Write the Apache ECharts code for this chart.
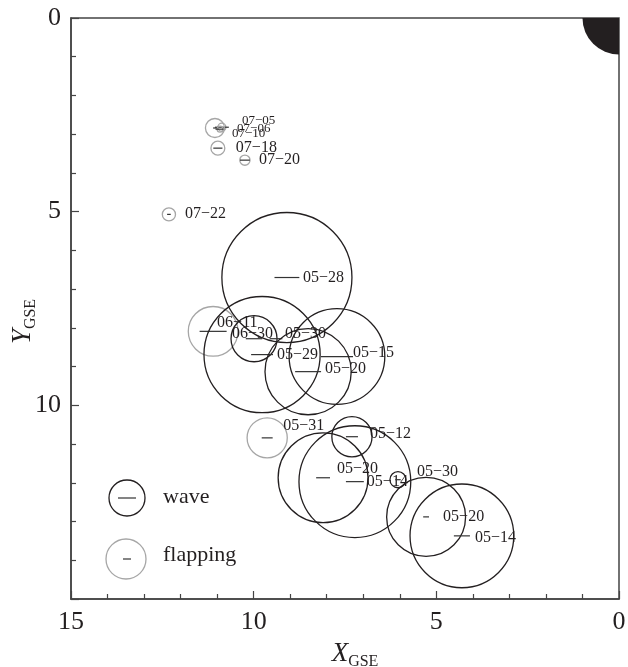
<!DOCTYPE html>
<html>
<head>
<meta charset="utf-8">
<script src="https://cdn.jsdelivr.net/npm/echarts@6/dist/echarts.min.js"></script>
<style>html,body{margin:0;padding:0;background:#fff}#c{width:628px;height:667px}</style>
</head>
<body>
<div id="c"></div>
<script>
// ---- data (X_GSE, Y_GSE in Earth radii; circle radius and bar length in same units) ----
const waveDates = ['05\u221228','06\u221230','05\u221230','05\u221229','05\u221215','05\u221220','05\u221212','05\u221220','05\u221214','05\u221230','05\u221220','05\u221214'];
const waveX     = [9.09, 9.99, 9.39, 9.77, 7.72, 8.51, 7.31, 8.10, 7.23, 6.05, 5.28, 4.30];
const waveY     = [6.70, 8.28, 8.28, 8.69, 8.74, 9.13, 10.81, 11.87, 11.97, 11.92, 12.88, 13.37];
const waveR     = [1.78, 0.63, 0.00, 1.59, 1.31, 1.18, 0.55, 1.23, 1.53, 0.22, 1.08, 1.42];
const waveL     = [0.68, 0.45, 0.35, 0.60, 0.88, 0.71, 0.33, 0.38, 0.49, 0.15, 0.16, 0.44];

const flapDates = ['07\u221205','07\u221206','07\u221210','07\u221218','07\u221220','07\u221222','06\u221211','05\u221231'];
const flapX     = [10.87, 10.92, 11.06, 10.98, 10.24, 12.32, 11.11, 9.63];
const flapY     = [2.82, 2.87, 2.84, 3.36, 3.67, 5.07, 8.09, 10.84];
const flapR     = [0.11, 0.08, 0.26, 0.19, 0.14, 0.18, 0.68, 0.55];
const flapL     = [0.38, 0.25, 0.10, 0.25, 0.27, 0.10, 0.74, 0.30];

const earthR = 1;
const xTicks = [15, 10, 5, 0];
const yTicks = [0, 5, 10];

// ---- label layout (pixel offsets from circle centre) ----
const waveLabelDx = [16, -22, 9, 15, 16, 17, 18, 14, 12, 19, 17, 13];
const waveLabelDy = [0, -5, -5, 0, -4, -3, -3, -9, 0, -8, 0, 2];
const flapLabelDx = [20, 17, 17, 18, 14, 16, 4, 16];
const flapLabelDy = [-7, -1, 6, 0, 0, -1, -9, -12];
const flapLabelFs = [13, 13, 13, 16, 16, 16, 16, 16];

const FONT = 'Liberation Serif';
const INK = '#231f20';

function makeSeries(name, dates, xs, ys, rs, ls, dxs, dys, fss, color) {
  const data = xs.map((x, i) => [x, ys[i], rs[i], ls[i]]);
  return {
    type: 'custom', name: name, data: data, silent: true,
    encode: { x: 0, y: 1 },
    renderItem: function (params, api) {
      const i = params.dataIndex;
      const c = api.coord([api.value(0), api.value(1)]);
      const r = Math.abs(api.size([api.value(2), 0])[0]);
      const hl = Math.abs(api.size([api.value(3), 0])[0]) / 2;
      const fs = fss ? fss[i] : 16;
      const ch = [];
      if (r > 0) ch.push({ type: 'circle', shape: { cx: c[0], cy: c[1], r: r },
        style: { fill: 'none', stroke: color, lineWidth: 1.3 } });
      ch.push({ type: 'line', shape: { x1: c[0] - hl, y1: c[1], x2: c[0] + hl, y2: c[1] },
        style: { stroke: '#333', lineWidth: 1.2 } });
      ch.push({ type: 'text', x: c[0] + dxs[i], y: c[1] + dys[i],
        style: { text: dates[i], fill: INK, fontSize: fs, fontFamily: FONT, align: 'left', verticalAlign: 'middle' } });
      return { type: 'group', children: ch };
    }
  };
}

const chart = echarts.init(document.getElementById('c'), null, { renderer: 'canvas' });
const axisCommon = {
  min: 0, max: 15, interval: 5, inverse: true,
  axisLine: { show: true, onZero: false, lineStyle: { color: '#444', width: 1.5 } },
  axisTick: { show: true, inside: true, length: 8, lineStyle: { color: '#444', width: 1.2 } },
  minorTick: { show: true, splitNumber: 5, length: 5, lineStyle: { color: '#444', width: 1.2 } },
  splitLine: { show: false },
  axisLabel: { fontFamily: FONT, fontSize: 26, color: INK, margin: 10 }
};
chart.setOption({
  animation: false,
  backgroundColor: '#fff',
  grid: { left: 71, right: 9, top: 18, bottom: 68, show: true, borderColor: '#444', borderWidth: 1.5,
          containLabel: false, outerBoundsMode: 'none' },
  xAxis: Object.assign({}, axisCommon, {
    type: 'value', position: 'bottom', nameMoveOverlap: false,
    axisLabel: Object.assign({}, axisCommon.axisLabel, {
      formatter: v => xTicks.indexOf(v) >= 0 ? String(v) : '' }),
    name: '{a|X}{b|GSE}', nameLocation: 'middle', nameGap: 39,
    nameTextStyle: { color: INK, rich: {
      a: { fontFamily: FONT, fontStyle: 'italic', fontSize: 27, color: INK, padding: [0, 0, 0, 20] },
      b: { fontFamily: FONT, fontSize: 16, color: INK, padding: [16, 0, 0, 0] } } }
  }),
  yAxis: Object.assign({}, axisCommon, {
    type: 'value', position: 'left', nameMoveOverlap: false,
    axisLabel: Object.assign({}, axisCommon.axisLabel, { showMaxLabel: false,
      formatter: v => yTicks.indexOf(v) >= 0 ? String(v) : '' }),
    name: '{a|Y}{b|GSE}', nameLocation: 'middle', nameGap: 32, nameRotate: 90,
    nameTextStyle: { color: INK, rich: {
      a: { fontFamily: FONT, fontStyle: 'italic', fontSize: 27, color: INK },
      b: { fontFamily: FONT, fontSize: 16, color: INK, padding: [16, 26, 0, 0] } } }
  }),
  graphic: [
    { type: 'circle', shape: { cx: 127, cy: 498, r: 18 }, style: { fill: 'none', stroke: INK, lineWidth: 1.3 } },
    { type: 'line', shape: { x1: 118, y1: 498, x2: 136, y2: 498 }, style: { stroke: '#333', lineWidth: 1.2 } },
    { type: 'text', x: 163, y: 497, style: { text: 'wave', fill: INK, fontSize: 22, fontFamily: FONT, verticalAlign: 'middle' } },
    { type: 'circle', shape: { cx: 126, cy: 559, r: 20 }, style: { fill: 'none', stroke: '#a6a6a6', lineWidth: 1.3 } },
    { type: 'line', shape: { x1: 123, y1: 559, x2: 131, y2: 559 }, style: { stroke: '#333', lineWidth: 1.2 } },
    { type: 'text', x: 163, y: 555, style: { text: 'flapping', fill: INK, fontSize: 22, fontFamily: FONT, verticalAlign: 'middle' } }
  ],
  series: [
    {
      type: 'custom', name: 'Earth', silent: true, data: [[0, 0, earthR]], encode: { x: 0, y: 1 },
      renderItem: function (params, api) {
        const c = api.coord([api.value(0), api.value(1)]);
        const r = Math.abs(api.size([api.value(2), 0])[0]);
        return { type: 'sector', shape: { cx: c[0], cy: c[1], r0: 0, r: r, startAngle: Math.PI / 2, endAngle: Math.PI, clockwise: true },
          style: { fill: INK } };
      }
    },
    makeSeries('flapping', flapDates, flapX, flapY, flapR, flapL, flapLabelDx, flapLabelDy, flapLabelFs, '#a6a6a6'),
    makeSeries('wave', waveDates, waveX, waveY, waveR, waveL, waveLabelDx, waveLabelDy, null, INK)
  ]
});
</script>
</body>
</html>
